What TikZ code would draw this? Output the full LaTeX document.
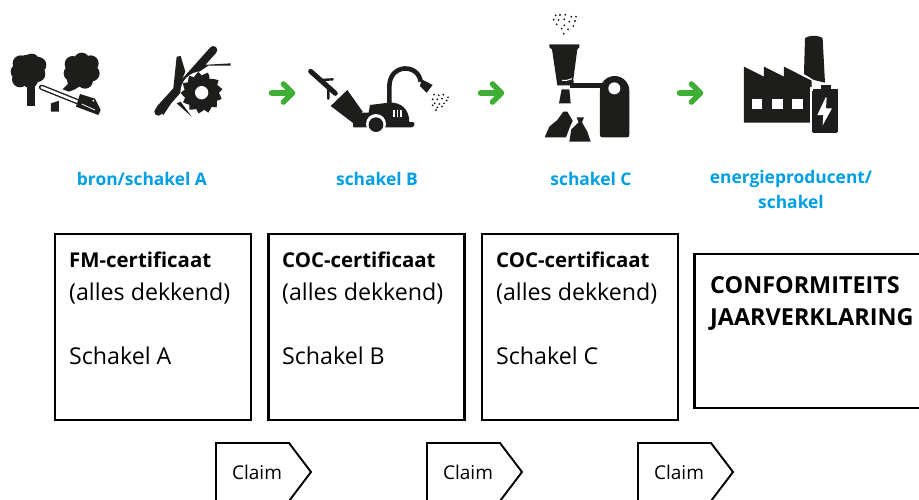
\documentclass[tikz,border=0pt]{standalone}
\usepackage{fontspec}
\setmainfont{Open Sans}
\definecolor{icon}{HTML}{1D1D1B}
\definecolor{arrowgreen}{HTML}{3FAE35}
\definecolor{labelblue}{HTML}{009FE3}
\tikzset{
  certbox/.style={draw=black,line width=2.4pt,minimum width=196pt,minimum height=186pt,inner sep=0pt},
  headtext/.style={anchor=base west,inner sep=0pt,font=\fontsize{20.4}{24}\selectfont\bfseries},
  bodytext/.style={anchor=base west,inner sep=0pt,font=\fontsize{23.2}{27}\selectfont},
  linklabel/.style={text=labelblue,align=center,inner sep=0pt,font=\fontsize{17.4}{25}\selectfont\bfseries},
  claimtext/.style={inner sep=0pt,font=\fontsize{19}{21}\selectfont},
  claimbox/.style={draw=black,line width=1.9pt,line join=miter},
  iconfill/.style={fill=icon,draw=none},
  iconline/.style={draw=icon,line cap=round,line join=round},
  whitefill/.style={fill=white,draw=none},
  flowarrow/.pic={
    \draw[arrowgreen,line width=5.6pt,line cap=round,line join=round]
      (-10.5,0) -- (10,0) (1.5,-9) -- (10.5,0) -- (1.5,9);
  }
}
\begin{document}
\begin{tikzpicture}[x=1pt,y=-1pt]
  \useasboundingbox (0,0) rectangle (919,499);
  % certificate boxes
  \node[certbox] (boxA) at (153,327) {};
  \node[certbox] (boxB) at (366.5,327) {};
  \node[certbox] (boxC) at (580,327) {};
  \node[certbox,minimum width=240pt,minimum height=154pt] (boxD) at (814.5,331) {};
  \node[headtext] (headA) at (69,267) {FM-certificaat};
  \node[headtext] (headB) at (282,267) {COC-certificaat};
  \node[headtext] (headC) at (496,267) {COC-certificaat};
  \node[bodytext] (coverA) at (69,300) {(alles dekkend)};
  \node[bodytext] (coverB) at (282,300) {(alles dekkend)};
  \node[bodytext] (coverC) at (496,300) {(alles dekkend)};
  \node[bodytext] (linkA) at (69,364) {Schakel A};
  \node[bodytext] (linkB) at (282,364) {Schakel B};
  \node[bodytext] (linkC) at (496,364) {Schakel C};
  \node[headtext,font=\fontsize{23.4}{26}\selectfont\bfseries] (conformA) at (710,293) {CONFORMITEITS};
  \node[headtext,font=\fontsize{23.4}{26}\selectfont\bfseries] (conformB) at (710,325) {JAARVERKLARING};
  % blue labels
  \node[linklabel] (labelA) at (142,179) {bron/schakel A};
  \node[linklabel] (labelB) at (377,179) {schakel B};
  \node[linklabel] (labelC) at (591,179) {schakel C};
  \node[linklabel] (labelD) at (791,189.5) {energieproducent/\\schakel};
  % claims
  \foreach \x/\name in {216/claimA,427/claimB,638/claimC} {
    \draw[claimbox] (\x,443) -- ++(73,0) -- ++(22,29) -- ++(-22,29) -- ++(-73,0) -- cycle;
    \node[claimtext] (\name) at (\x+41,472) {Claim};
  }
  % green arrows
  \pic at (282,93) {flowarrow};
  \pic at (491,93) {flowarrow};
  \pic at (690,93) {flowarrow};
  % icons, in 3x coordinates
  \begin{scope}[scale=1/3]
    % trees and chainsaw
    \fill[icon] (85,210) circle (46);
    \foreach \a/\b in {95/185,62/190,115/195,56/215,112/222,60/238,90/240} \fill[icon] (\a,\b) circle (24);
    \fill[iconfill] (80,235) -- (106,235) -- (106,318) -- (80,318) -- cycle;
    \fill[icon] (245,212) circle (46);
    \foreach \a/\b in {245/182,218/192,272/190,215/220,275/220,225/240,255/242} \fill[icon] (\a,\b) circle (24);
    \fill[iconfill] (215,240) -- (250,250) -- (225,268) -- (207,275) -- (188,268) -- cycle;
    \fill[iconfill] (153,310) -- (177,302) -- (177,335) -- (153,335) -- cycle;
    \draw[white,line width=8pt,line cap=round] (122,262) -- (245,310);
    \draw[iconline,line width=5.4pt] (125,262) -- (240,308);
    \draw[white,line width=2.6pt,line cap=round] (125,262) -- (240,308);
    \fill[iconfill] (240,282) -- (285,296) -- (302,330) -- (295,345) -- (228,320) -- cycle;
    \draw[white,line width=.8pt] (245,312) -- (285,330);
    \fill[white] (280,302) circle (3);
    % branch and blade
    \draw[iconline,line width=8pt] (475,335) -- (640,150);
    \fill[iconfill] (470,320) -- (520,265) -- (530,170) -- (542,168) -- (556,215) -- (520,300) -- (490,345) -- cycle;
    \fill[iconfill] (605,195) -- (692,190) -- (692,197) -- (625,197) -- (590,220) -- cycle;
    \fill[iconfill] (530,310) -- (542,305) -- (575,350) -- cycle;
    \fill[white] (605,278) circle (64);
    \foreach \r in {0,27,...,350}
      \fill[icon,rotate around={\r:(605,278)}] (592,238) .. controls (600,228) and (612,222) .. (624,218) .. controls (630,226) and (630,236) .. (626,244) -- cycle;
    \fill[icon] (605,278) circle (40);
    \fill[white] (605,278) circle (20);
    % chipper
    \draw[iconline,line width=5pt] (932,214) -- (1006,280);
    \draw[iconline,line width=2.4pt] (962,240) -- (998,238) (985,262) -- (985,296);
    \fill[iconfill] (992,318) -- (1042,270) -- (1088,335) -- (1058,368) -- cycle;
    \fill[iconfill] (1060,382) -- (1058,362) -- (1085,338) -- (1106,338) -- (1110,315) -- (1165,308) .. controls (1205,305) and (1228,330) .. (1228,366) -- (1240,366) .. controls (1246,372) and (1244,382) .. (1236,382) -- cycle;
    \fill[white] (1128,372) circle (30);
    \fill[icon] (1128,374) circle (22);
    \draw[white,line width=1.5pt] (1182,330) -- (1182,350) (1192,330) -- (1192,350) (1203,330) -- (1203,350);
    \draw[icon,line width=4.6pt] (1168,312) -- (1168,260) .. controls (1168,190) and (1255,190) .. (1262,245);
    \fill[iconfill] (1265,238) -- (1298,255) -- (1280,278) -- (1260,258) -- cycle;
    \foreach \a/\b in {1302/284,1316/286,1330/284,1344/292,1298/298,1312/298,1326/296,1340/302,1304/310,1318/312,1332/310,1298/316,1312/322,1326/320,1308/330}
      \fill[icon] (\a,\b) circle (3.2);
    % hopper and stack
    \begin{scope}[xshift=1380pt]
      \foreach \a/\b in {287/46,300/45,316/44,334/50,348/50,281/59,296/60,313/58,328/65,345/63,290/73,313/76,340/78,305/86,324/88,311/101}
        \fill[icon] (\a,\b) circle (3.2);
      \fill[iconfill] (268,133) -- (358,133) -- (358,142) -- (352,148) -- (340,238) -- (342,256) -- (292,256) -- (276,148) -- (268,142) -- cycle;
      \draw[white,line width=1pt] (306,241) .. controls (316,243) and (325,240) .. (336,236);
      \fill[iconfill] (330,248) -- (430,248) -- (430,264) -- (330,264) -- cycle;
      \fill[iconfill] (305,268) -- (328,268) -- (332,310) -- (297,310) -- cycle;
      \fill[iconfill] (420,272) arc (180:360:44) -- (508,404) .. controls (508,410) and (506,412) .. (500,412) -- (428,412) .. controls (422,412) and (420,410) .. (420,404) -- cycle;
      \fill[white] (463,265) circle (18);
      \fill[iconfill] (254,412) -- (268,380) -- (292,360) -- (310,335) -- (322,335) -- (338,362) -- (328,385) -- (318,412) -- cycle;
      \fill[iconfill] (328,425) -- (334,388) -- (356,367) -- (350,352) -- (372,352) -- (366,367) -- (382,395) -- (392,425) -- cycle;
      % factory and battery
      \fill[iconfill] (852,368) -- (852,200) -- (912,230) -- (912,200) -- (972,230) -- (972,200) -- (1055,242) -- (1055,262) -- (1050,368) -- cycle;
      \foreach \a in {876,937,997}
        \fill[white] (\a,298) rectangle ++(31,30);
      \fill[iconfill] (1035,115) .. controls (1045,105) and (1078,105) .. (1088,115) -- (1095,248) -- (1062,240) -- (1032,222) -- cycle;
      \fill[white] (1050,262) rectangle (1140,402);
      \fill[icon] (1082,256) rectangle (1112,270);
      \draw[icon,line width=0pt,fill=icon,rounded corners=2pt] (1058,268) rectangle (1133,397);
      \fill[whitefill] (1097,292) -- (1072,345) -- (1090,345) -- (1088,376) -- (1116,325) -- (1098,325) -- (1100,292) -- cycle;
    \end{scope}
  \end{scope}
\end{tikzpicture}
\end{document}
